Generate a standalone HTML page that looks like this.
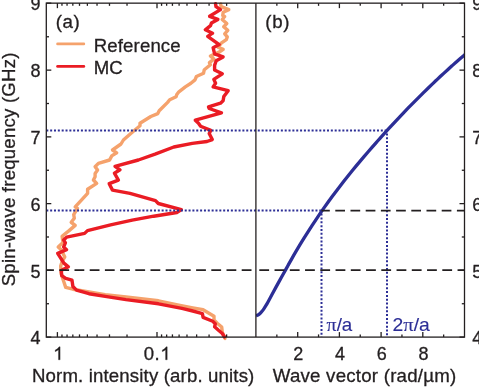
<!DOCTYPE html>
<html><head><meta charset="utf-8"><title>Spin-wave spectrum</title>
<style>html,body{margin:0;padding:0;background:#fff;}body{width:479px;height:390px;overflow:hidden;}svg{display:block;will-change:transform;}text{font-family:"Liberation Sans",sans-serif;font-size:18px;fill:#231f20;stroke:#231f20;stroke-width:0.3px;}</style>
</head><body>
<svg width="479" height="390" viewBox="0 0 479 390">
<rect x="0" y="0" width="479" height="390" fill="#fff"/>
<defs><clipPath id="ca"><rect x="46.3" y="3.15" width="209.60000000000002" height="335.95000000000005"/></clipPath><clipPath id="cb"><rect x="255.9" y="3.15" width="208.6" height="333.95000000000005"/></clipPath></defs>
<g fill="none" stroke-linejoin="round" stroke-linecap="round" stroke-width="3.4">
<polyline stroke="#f5a26c" points="220.6,4.1 221.2,6.7 228.8,9.7 223.2,12.3 222.7,15.4 224.7,16.4 222.2,19.5 226.8,23.6 223.7,26.7 227.8,30.3 224.7,33.8 227.3,36.9 226.3,39.6 221.2,43.2 218.1,47.3 223.2,49.4 219.6,51.9 210.4,56.0 214.0,59.1 209.4,62.7 210.4,64.7 204.3,69.7 203.5,73.3 196.4,76.5 195.0,79.9 190.9,83.3 185.3,86.9 178.9,91.8 176.8,94.6 176.1,96.8 169.7,99.8 167.6,102.4 159.2,110.8 157.8,113.6 150.8,116.5 140.0,123.3 140.0,125.8 130.8,133.5 123.4,140.0 121.0,144.0 112.5,150.0 116.7,152.8 111.7,155.9 109.6,160.0 98.4,163.4 95.1,166.7 97.6,170.0 95.1,173.4 95.1,176.7 93.4,180.0 96.7,183.4 87.6,189.2 87.6,193.4 75.2,206.9 77.5,208.4 73.7,214.6 74.3,218.3 71.2,222.3 75.2,225.4 69.1,230.6 62.1,236.3 63.0,242.6 58.2,247.0 61.2,249.7 64.8,256.9 62.1,261.4 60.7,265.9 61.2,273.9 63.9,282.0 65.7,287.4 72.9,289.2 89.0,291.9 105.2,294.6 126.0,297.0 158.5,300.8 180.0,305.3 192.8,307.8 203.1,309.7 214.0,316.2 214.0,320.0 217.2,323.2 221.7,327.0 222.3,332.2 225.0,338.4"/>
<polyline stroke="#ea1c24" points="215.5,3.6 216.0,6.6 220.5,9.6 209.6,16.3 217.9,19.4 211.4,23.1 210.5,25.7 205.3,29.8 212.6,33.2 207.7,36.4 219.2,44.6 213.1,47.7 214.6,53.8 223.1,56.9 216.2,60.8 214.6,65.4 214.6,70.0 222.3,73.8 213.8,79.4 215.6,83.3 213.1,86.9 228.2,90.7 223.8,96.6 223.1,100.8 220.5,103.2 208.5,106.9 209.2,108.5 221.5,112.8 195.3,120.2 198.5,123.2 200.6,126.2 210.8,130.4 209.2,133.5 212.3,139.6 207.0,141.5 192.3,143.4 173.8,147.0 155.1,154.2 138.4,160.0 115.0,166.4 120.0,169.8 114.4,173.2 118.4,180.1 109.2,183.7 112.5,190.1 130.0,193.4 155.5,200.6 158.3,203.5 181.4,209.6 176.8,212.5 153.7,216.2 132.2,220.2 110.6,224.8 87.5,230.6 84.6,233.4 66.6,237.2 63.6,239.9 65.4,242.9 63.6,247.0 66.6,249.7 57.7,253.3 63.9,263.2 68.4,266.8 61.2,270.4 61.8,275.7 65.7,278.4 72.0,280.2 72.9,286.5 76.5,290.1 89.0,293.7 105.2,296.4 126.0,299.6 158.5,303.8 181.9,308.4 192.8,311.0 202.4,313.6 203.1,317.4 212.7,321.3 215.3,323.8 214.6,326.8 218.5,330.3 222.3,333.5 224.5,336.9"/>
</g>
<path d="M256.00,315.80 C256.33,315.68 257.33,315.43 258.00,315.06 C258.67,314.69 259.33,314.19 260.00,313.57 C260.67,312.94 261.33,312.13 262.00,311.30 C262.67,310.47 263.33,309.57 264.00,308.59 C264.67,307.61 265.33,306.55 266.00,305.44 C266.67,304.33 267.00,303.77 268.00,301.94 C269.00,300.10 270.67,296.92 272.00,294.45 C273.33,291.98 274.67,289.55 276.00,287.13 C277.33,284.70 278.67,282.30 280.00,279.90 C281.33,277.49 282.67,275.12 284.00,272.71 C285.33,270.31 286.67,267.85 288.00,265.46 C289.33,263.06 290.67,260.66 292.00,258.32 C293.33,255.98 294.67,253.69 296.00,251.42 C297.33,249.15 298.67,246.91 300.00,244.70 C301.33,242.50 302.67,240.33 304.00,238.18 C305.33,236.04 306.67,233.93 308.00,231.84 C309.33,229.75 310.67,227.70 312.00,225.66 C313.33,223.62 314.67,221.60 316.00,219.61 C317.33,217.62 318.67,215.65 320.00,213.70 C321.33,211.76 322.67,209.83 324.00,207.93 C325.33,206.03 326.67,204.15 328.00,202.29 C329.33,200.44 330.67,198.61 332.00,196.80 C333.33,194.99 334.67,193.21 336.00,191.44 C337.33,189.68 338.67,187.93 340.00,186.20 C341.33,184.47 342.67,182.75 344.00,181.05 C345.33,179.35 346.67,177.67 348.00,176.00 C349.33,174.33 350.67,172.67 352.00,171.03 C353.33,169.39 354.67,167.76 356.00,166.15 C357.33,164.53 358.67,162.93 360.00,161.34 C361.33,159.75 362.67,158.18 364.00,156.61 C365.33,155.04 366.67,153.49 368.00,151.95 C369.33,150.40 370.67,148.87 372.00,147.35 C373.33,145.82 374.67,144.30 376.00,142.79 C377.33,141.29 378.67,139.78 380.00,138.29 C381.33,136.80 382.67,135.31 384.00,133.83 C385.33,132.36 386.67,130.89 388.00,129.42 C389.33,127.96 390.67,126.51 392.00,125.07 C393.33,123.62 394.67,122.19 396.00,120.76 C397.33,119.33 398.67,117.91 400.00,116.51 C401.33,115.10 402.67,113.70 404.00,112.31 C405.33,110.92 406.67,109.54 408.00,108.17 C409.33,106.80 410.67,105.44 412.00,104.09 C413.33,102.74 414.67,101.39 416.00,100.06 C417.33,98.72 418.67,97.39 420.00,96.07 C421.33,94.75 422.67,93.43 424.00,92.13 C425.33,90.82 426.67,89.52 428.00,88.23 C429.33,86.93 430.67,85.65 432.00,84.37 C433.33,83.10 434.67,81.83 436.00,80.57 C437.33,79.31 438.67,78.05 440.00,76.81 C441.33,75.57 442.67,74.33 444.00,73.10 C445.33,71.87 446.67,70.66 448.00,69.45 C449.33,68.24 450.67,67.03 452.00,65.84 C453.33,64.65 454.67,63.47 456.00,62.30 C457.33,61.13 458.58,60.03 460.00,58.81 C461.42,57.59 463.50,55.81 464.50,54.96 C465.50,54.11 465.75,53.91 466.00,53.70" fill="none" stroke="#2c2e96" stroke-width="3.3" stroke-linecap="butt" clip-path="url(#cb)"/>
<g stroke="#2c2e96" stroke-width="2" fill="none" stroke-dasharray="2 1.845">
<line x1="46.3" y1="130.50" x2="388.00" y2="130.50"/>
<line x1="46.3" y1="210.60" x2="321.50" y2="210.60"/>
<line x1="321.50" y1="213.60" x2="321.50" y2="337.1"/>
<line x1="387.00" y1="133.40" x2="387.00" y2="337.1"/>
</g>
<g stroke="#231f20" stroke-width="1.8" fill="none" stroke-dasharray="9.8 5.4">
<line x1="44.1" y1="270.10" x2="255.4" y2="270.10" clip-path="url(#ca)"/>
<line x1="259.3" y1="270.10" x2="464.5" y2="270.10" stroke-dasharray="9.8 5.45"/>
<line x1="321.50" y1="210.70" x2="464.5" y2="210.70" stroke-dasharray="9.7 5.5" stroke-dashoffset="1.4"/>
</g>
<g stroke="#231f20" stroke-width="1.3" fill="none">
<rect x="46.3" y="3.15" width="418.2" height="333.95000000000005"/>
<line x1="255.9" y1="3.15" x2="255.9" y2="337.1"/>
<line x1="46.3" y1="337.10" x2="51.3" y2="337.10"/>
<line x1="464.5" y1="337.10" x2="459.5" y2="337.10"/>
<line x1="46.3" y1="303.73" x2="49.0" y2="303.73"/>
<line x1="464.5" y1="303.73" x2="461.8" y2="303.73"/>
<line x1="46.3" y1="270.36" x2="51.3" y2="270.36"/>
<line x1="464.5" y1="270.36" x2="459.5" y2="270.36"/>
<line x1="46.3" y1="236.99" x2="49.0" y2="236.99"/>
<line x1="464.5" y1="236.99" x2="461.8" y2="236.99"/>
<line x1="46.3" y1="203.62" x2="51.3" y2="203.62"/>
<line x1="464.5" y1="203.62" x2="459.5" y2="203.62"/>
<line x1="46.3" y1="170.25" x2="49.0" y2="170.25"/>
<line x1="464.5" y1="170.25" x2="461.8" y2="170.25"/>
<line x1="46.3" y1="136.88" x2="51.3" y2="136.88"/>
<line x1="464.5" y1="136.88" x2="459.5" y2="136.88"/>
<line x1="46.3" y1="103.51" x2="49.0" y2="103.51"/>
<line x1="464.5" y1="103.51" x2="461.8" y2="103.51"/>
<line x1="46.3" y1="70.14" x2="51.3" y2="70.14"/>
<line x1="464.5" y1="70.14" x2="459.5" y2="70.14"/>
<line x1="46.3" y1="36.77" x2="49.0" y2="36.77"/>
<line x1="464.5" y1="36.77" x2="461.8" y2="36.77"/>
<line x1="46.3" y1="3.15" x2="51.3" y2="3.15"/>
<line x1="464.5" y1="3.15" x2="459.5" y2="3.15"/>
<line x1="57.40" y1="3.15" x2="57.40" y2="8.15"/>
<line x1="57.40" y1="337.1" x2="57.40" y2="332.1"/>
<line x1="61.96" y1="3.15" x2="61.96" y2="5.85"/>
<line x1="61.96" y1="337.1" x2="61.96" y2="334.40000000000003"/>
<line x1="67.05" y1="3.15" x2="67.05" y2="5.85"/>
<line x1="67.05" y1="337.1" x2="67.05" y2="334.40000000000003"/>
<line x1="72.83" y1="3.15" x2="72.83" y2="5.85"/>
<line x1="72.83" y1="337.1" x2="72.83" y2="334.40000000000003"/>
<line x1="79.50" y1="3.15" x2="79.50" y2="5.85"/>
<line x1="79.50" y1="337.1" x2="79.50" y2="334.40000000000003"/>
<line x1="87.38" y1="3.15" x2="87.38" y2="5.85"/>
<line x1="87.38" y1="337.1" x2="87.38" y2="334.40000000000003"/>
<line x1="97.03" y1="3.15" x2="97.03" y2="5.85"/>
<line x1="97.03" y1="337.1" x2="97.03" y2="334.40000000000003"/>
<line x1="109.48" y1="3.15" x2="109.48" y2="5.85"/>
<line x1="109.48" y1="337.1" x2="109.48" y2="334.40000000000003"/>
<line x1="127.02" y1="3.15" x2="127.02" y2="5.85"/>
<line x1="127.02" y1="337.1" x2="127.02" y2="334.40000000000003"/>
<line x1="157.00" y1="3.15" x2="157.00" y2="8.15"/>
<line x1="157.00" y1="337.1" x2="157.00" y2="332.1"/>
<line x1="161.56" y1="3.15" x2="161.56" y2="5.85"/>
<line x1="161.56" y1="337.1" x2="161.56" y2="334.40000000000003"/>
<line x1="166.65" y1="3.15" x2="166.65" y2="5.85"/>
<line x1="166.65" y1="337.1" x2="166.65" y2="334.40000000000003"/>
<line x1="172.43" y1="3.15" x2="172.43" y2="5.85"/>
<line x1="172.43" y1="337.1" x2="172.43" y2="334.40000000000003"/>
<line x1="179.10" y1="3.15" x2="179.10" y2="5.85"/>
<line x1="179.10" y1="337.1" x2="179.10" y2="334.40000000000003"/>
<line x1="186.98" y1="3.15" x2="186.98" y2="5.85"/>
<line x1="186.98" y1="337.1" x2="186.98" y2="334.40000000000003"/>
<line x1="196.63" y1="3.15" x2="196.63" y2="5.85"/>
<line x1="196.63" y1="337.1" x2="196.63" y2="334.40000000000003"/>
<line x1="209.08" y1="3.15" x2="209.08" y2="5.85"/>
<line x1="209.08" y1="337.1" x2="209.08" y2="334.40000000000003"/>
<line x1="226.62" y1="3.15" x2="226.62" y2="5.85"/>
<line x1="226.62" y1="337.1" x2="226.62" y2="334.40000000000003"/>
<line x1="276.85" y1="3.15" x2="276.85" y2="5.85"/>
<line x1="276.85" y1="337.1" x2="276.85" y2="334.40000000000003"/>
<line x1="297.70" y1="3.15" x2="297.70" y2="8.15"/>
<line x1="297.70" y1="337.1" x2="297.70" y2="332.1"/>
<line x1="318.55" y1="3.15" x2="318.55" y2="5.85"/>
<line x1="318.55" y1="337.1" x2="318.55" y2="334.40000000000003"/>
<line x1="339.40" y1="3.15" x2="339.40" y2="8.15"/>
<line x1="339.40" y1="337.1" x2="339.40" y2="332.1"/>
<line x1="360.25" y1="3.15" x2="360.25" y2="5.85"/>
<line x1="360.25" y1="337.1" x2="360.25" y2="334.40000000000003"/>
<line x1="381.10" y1="3.15" x2="381.10" y2="8.15"/>
<line x1="381.10" y1="337.1" x2="381.10" y2="332.1"/>
<line x1="401.95" y1="3.15" x2="401.95" y2="5.85"/>
<line x1="401.95" y1="337.1" x2="401.95" y2="334.40000000000003"/>
<line x1="422.80" y1="3.15" x2="422.80" y2="8.15"/>
<line x1="422.80" y1="337.1" x2="422.80" y2="332.1"/>
<line x1="443.65" y1="3.15" x2="443.65" y2="5.85"/>
<line x1="443.65" y1="337.1" x2="443.65" y2="334.40000000000003"/>
</g>
<line x1="57.6" y1="43.9" x2="83.8" y2="43.9" stroke="#f5a26c" stroke-width="2.8" stroke-linecap="round"/>
<line x1="57.6" y1="66.4" x2="83.8" y2="66.4" stroke="#ea1c24" stroke-width="2.8" stroke-linecap="round"/>
<text transform="translate(93.7,51.9) scale(1.0355,1)" style="letter-spacing:0.124px" >Reference</text>
<text transform="translate(93.7,74.2) scale(1.0348,1)" style="letter-spacing:0.035px" >MC</text>
<text transform="translate(55.7,27.6) scale(1.04,1)" style="letter-spacing:0.6px" >(a)</text>
<text transform="translate(265.3,27.6) scale(1.04,1)" style="letter-spacing:0.6px" >(b)</text>
<text x="40.4" y="344.30" text-anchor="end">4</text>
<text x="472.2" y="344.30">4</text>
<text x="40.4" y="277.56" text-anchor="end">5</text>
<text x="472.2" y="277.56">5</text>
<text x="40.4" y="210.82" text-anchor="end">6</text>
<text x="472.2" y="210.82">6</text>
<text x="40.4" y="144.08" text-anchor="end">7</text>
<text x="472.2" y="144.08">7</text>
<text x="40.4" y="77.34" text-anchor="end">8</text>
<text x="472.2" y="77.34">8</text>
<text x="40.4" y="10.35" text-anchor="end">9</text>
<text x="472.2" y="10.35">9</text>
<path d="M763 0H583V1147Q518 1085 412.5 1023T223 930V1104Q374 1175 487 1276T647 1472H763V0Z" transform="translate(53.2,359.8) scale(0.009053,-0.008789)" fill="#231f20" stroke="#231f20" stroke-width="0.3" vector-effect="non-scaling-stroke"/>
<text transform="translate(143.7,359.8) scale(1.03,1)" style="letter-spacing:0.5px">0.</text>
<path d="M763 0H583V1147Q518 1085 412.5 1023T223 930V1104Q374 1175 487 1276T647 1472H763V0Z" transform="translate(160.3,359.8) scale(0.009053,-0.008789)" fill="#231f20" stroke="#231f20" stroke-width="0.3" vector-effect="non-scaling-stroke"/>
<text x="298.30" y="360.0" text-anchor="middle">2</text>
<text x="340.00" y="360.0" text-anchor="middle">4</text>
<text x="381.70" y="360.0" text-anchor="middle">6</text>
<text x="423.40" y="360.0" text-anchor="middle">8</text>
<text transform="translate(32.0,382.2) scale(1.0355,1)" style="letter-spacing:0.139px" >Norm. intensity (arb. units)</text>
<text transform="translate(272.74,382.2) scale(1.0372,1)" style="letter-spacing:0.224px" >Wave vector (rad/µm)</text>
<text transform="translate(14.7,286.31) rotate(-90) scale(1.0346,1)" style="letter-spacing:0.207px">Spin-wave frequency (GHz)</text>
<text transform="translate(326.6,331.3) scale(1.045,1)" style="fill:#2c2e96;stroke:#2c2e96;stroke-width:0.12px"><tspan style="font-family:'Liberation Serif',serif;font-size:19px">π</tspan>/a</text>
<text transform="translate(392.6,331.3) scale(1.075,1)" style="fill:#2c2e96;stroke:#2c2e96;stroke-width:0.12px">2<tspan style="font-family:'Liberation Serif',serif;font-size:19px">π</tspan>/a</text>
</svg></body></html>
